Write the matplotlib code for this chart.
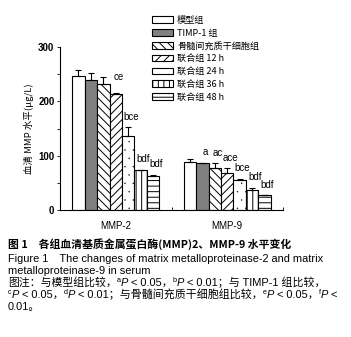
import matplotlib
matplotlib.use("Agg")
import matplotlib.pyplot as plt
import matplotlib.hatch as mhatch
import numpy as np

# ---------------- data ----------------
categories = ["MMP-2", "MMP-9"]
groups = ["模型组", "TIMP-1 组", "骨髓间充质干细胞组", "联合组 12 h",
          "联合组 24 h", "联合组 36 h", "联合组 48 h"]
mmp2_mean = [246, 239, 231, 213, 137, 73, 62]
mmp2_err = [11, 13, 13, 3, 15, 1, 3]
mmp9_mean = [89, 86, 77, 69, 55, 37, 27]
mmp9_err = [4, 1, 9, 8, 2, 4, 0]
mmp2_sig = ["", "", "", "ce", "bce", "bdf", "bdf"]
mmp9_sig = ["", "a", "ac", "ace", "bce", "bdf", "bdf"]
y_ticks = [0, 100, 200, 300]
y_label = "血清 MMP 水平(μg/L)"

caption_title = "图 1　各组血清基质金属蛋白酶(MMP)2、MMP-9 水平变化"
caption_en = ["Figure 1　The changes of matrix metalloproteinase-2 and matrix",
              "metalloproteinase-9 in serum"]

# ---------------- style ----------------
CJK = ["Noto Sans CJK SC", "DejaVu Sans"]
LAT = ["Liberation Sans", "Noto Sans CJK SC", "DejaVu Sans"]
plt.rcParams["font.family"] = LAT
plt.rcParams["hatch.linewidth"] = 0.7
mhatch.SmallFilledCircles.size = 0.03

fills = ["white", "#808080", "white", "white", "white", "white", "white"]
hatches = [None, None, "\\\\\\\\", "////", "..", "|||", "---"]

W, H = 351, 337
fig = plt.figure(figsize=(W / 100, H / 100), dpi=100)
ax = fig.add_axes([60 / W, 1 - 210 / H, (283 - 60) / W, (210 - 47) / H])

means = np.array([mmp2_mean, mmp9_mean])
errs = np.array([mmp2_err, mmp9_err])
sigs = [mmp2_sig, mmp9_sig]
n = len(groups)
bw = 0.78 / n
x = np.arange(len(categories))

bars = []
for i in range(n):
    pos = x - 0.39 + bw * (i + 0.5)
    b = ax.bar(pos, means[:, i], bw, color=fills[i], edgecolor="black",
               linewidth=0.8, hatch=hatches[i], label=groups[i], zorder=2)
    ax.errorbar(pos, means[:, i], yerr=[np.zeros(2), errs[:, i]], fmt="none",
                ecolor="black", elinewidth=0.8, capsize=2.5, capthick=0.8, zorder=3)
    bars.append(b)
    for c in range(len(categories)):
        lab = sigs[c][i]
        if lab:
            top = means[c, i] + errs[c, i]
            off = 8 if (c == 0 and i == 3) else 4
            ax.annotate(lab, (pos[c], top), xytext=(2, off), textcoords="offset points",
                        ha="center", va="bottom", fontsize=7, family=LAT)

ax.set_xlim(-0.5, 1.5)
ax.set_ylim(0, 300)
ax.set_xticks([-0.5, 0.5, 1.5])
ax.set_xticklabels([])
ax.set_xticks(x, minor=True)
ax.set_xticklabels(categories, minor=True, fontsize=7)
ax.tick_params(axis="x", which="minor", length=0, pad=8)
ax.tick_params(axis="x", which="major", direction="in", length=2, width=0.6)
ax.set_yticks(y_ticks)
ax.set_yticklabels([str(v) for v in y_ticks], fontsize=7, fontweight="bold")
ax.set_yticks([50, 150, 250], minor=True)
ax.tick_params(axis="y", which="both", direction="out", length=2, width=0.6, pad=2)
for s in ["top", "right"]:
    ax.spines[s].set_visible(False)
for s in ["left", "bottom"]:
    ax.spines[s].set_linewidth(0.8)
ax.set_ylabel(y_label, family=CJK, fontsize=6.8, labelpad=3)

leg = fig.legend(handles=bars, labels=groups, loc="upper left",
                 bbox_to_anchor=(148 / W, 1 - 12 / H), frameon=False,
                 prop={"family": CJK, "size": 6.6}, handlelength=2.3,
                 handleheight=0.75, labelspacing=0.42, handletextpad=0.45,
                 borderaxespad=0)

# ---------------- caption ----------------
fig.text(8 / W, 1 - 248 / H, caption_title, family=CJK, fontsize=7.8,
         fontweight="bold", va="baseline")
fig.text(8 / W, 1 - 262 / H, caption_en[0], family=LAT, fontsize=7.9, va="baseline")
fig.text(8 / W, 1 - 274 / H, caption_en[1], family=LAT, fontsize=7.9, va="baseline")

renderer = fig.canvas.get_renderer()

def seg_line(x0, ybase, segments):
    xp = x0
    for txt, kind in segments:
        if kind == "sup":
            t = fig.text(xp, ybase + 4, txt, fontsize=5.2, family=LAT, va="baseline",
                         transform=None)
        elif kind == "it":
            t = fig.text(xp, ybase, txt, fontsize=7.9, family=LAT, style="italic",
                         va="baseline", transform=None)
        elif kind == "cjk":
            t = fig.text(xp, ybase, txt, fontsize=7.8, family=CJK, va="baseline",
                         transform=None)
        else:
            t = fig.text(xp, ybase, txt, fontsize=7.9, family=LAT, va="baseline",
                         transform=None)
        bb = t.get_window_extent(renderer)
        xp += bb.width

def Y(py):
    return H - py

seg_line(8, Y(286), [("图注：与模型组比较，", "cjk"), ("a", "sup"), ("P", "it"),
                     (" < 0.05，", "n"), ("b", "sup"), ("P", "it"), (" < 0.01；与 TIMP-1 组比较，", "n")])
seg_line(8, Y(298), [("c", "sup"), ("P", "it"), (" < 0.05，", "n"), ("d", "sup"), ("P", "it"),
                     (" < 0.01；与骨髓间充质干细胞组比较，", "n"), ("e", "sup"), ("P", "it"),
                     (" < 0.05，", "n"), ("f", "sup"), ("P", "it"), (" <", "n")])
seg_line(8, Y(310), [("0.01。", "n")])

fig.savefig("out.png", dpi=100)
